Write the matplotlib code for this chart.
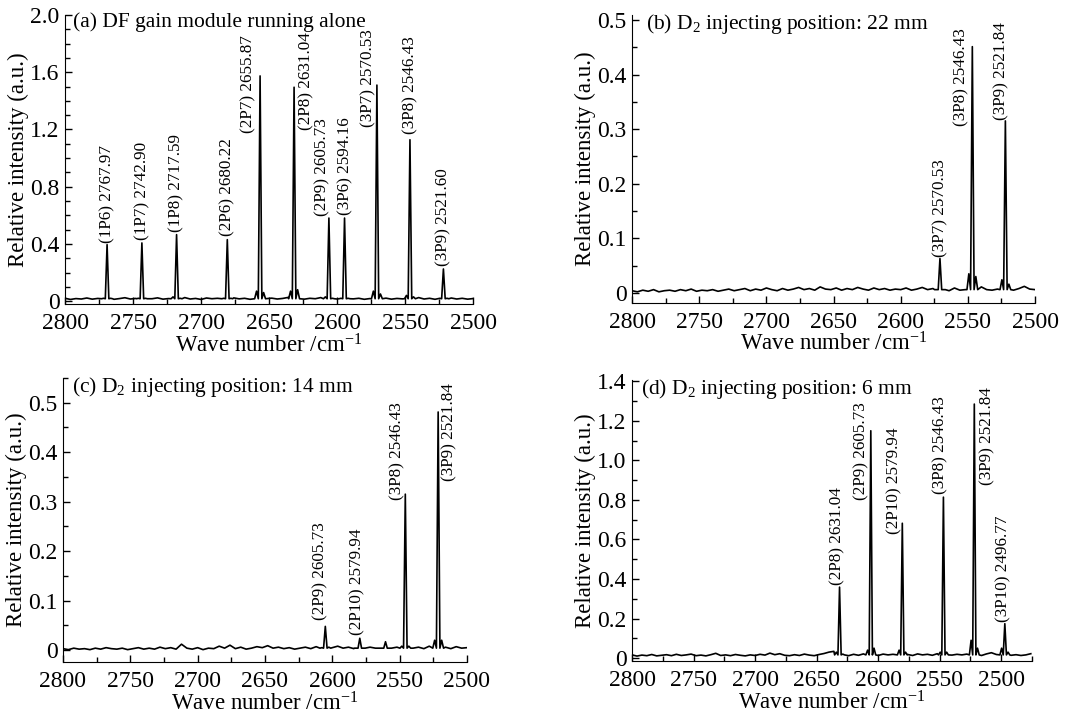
import numpy as np
import matplotlib
matplotlib.use("Agg")
import matplotlib.pyplot as plt
from matplotlib.ticker import MultipleLocator

plt.rcParams["font.family"] = ["Liberation Serif", "DejaVu Serif"]
plt.rcParams["mathtext.fontset"] = "custom"
plt.rcParams["mathtext.rm"] = "Liberation Serif"
plt.rcParams["mathtext.it"] = "Liberation Serif:italic"

# --- (a) DF gain module running alone ---
a_base = [0.020, 0.012, 0.018, 0.015, 0.022, 0.014, 0.019, 0.016, 0.021, 0.013,
          0.018, 0.024, 0.015, 0.019, 0.013, 0.020, 0.017, 0.023, 0.014, 0.018,
          0.016, 0.021, 0.025, 0.015, 0.019, 0.012, 0.022, 0.017, 0.020, 0.014,
          0.018, 0.023, 0.016, 0.020, 0.013, 0.019, 0.024, 0.017, 0.021, 0.015,
          0.019, 0.026, 0.018, 0.022, 0.014, 0.020, 0.017, 0.025, 0.016, 0.021,
          0.015, 0.019, 0.023, 0.016, 0.020, 0.013, 0.018, 0.024, 0.017, 0.021,
          0.014, 0.019, 0.016, 0.022, 0.018, 0.025, 0.015, 0.020, 0.013, 0.019,
          0.017, 0.022, 0.015, 0.020, 0.014, 0.018]
a_centers = [2769.1, 2743.5, 2718.0, 2680.7, 2656.6, 2631.6, 2606.0, 2594.5, 2570.7, 2546.4, 2521.8]
a_heights = [0.395, 0.407, 0.465, 0.43, 1.574, 1.495, 0.581, 0.581, 1.51, 1.128, 0.225]
a_sh_hi = [0.02, 0.02, 0.03, 0.02, 0.07, 0.07, 0.03, 0.02, 0.07, 0.04, 0.02]
a_sh_lo = [0.02, 0.02, 0.02, 0.02, 0.06, 0.08, 0.02, 0.02, 0.05, 0.03, 0.02]
a_labels = ["(1P6) 2767.97", "(1P7) 2742.90", "(1P8) 2717.59", "(2P6) 2680.22",
            "(2P7) 2655.87", "(2P8) 2631.04", "(2P9) 2605.73", "(3P6) 2594.16",
            "(3P7) 2570.53", "(3P8) 2546.43", "(3P9) 2521.60"]
a_lab_x = [2769.1, 2743.5, 2718.2, 2680.7, 2665.2, 2622.7, 2610.5, 2594.0, 2577.3, 2546.1, 2521.6]
a_lab_y = [0.407, 0.426, 0.48, 0.458, 1.174, 1.193, 0.598, 0.605, 1.214, 1.167, 0.244]

# --- (b) D2 injecting position: 22 mm ---
b_base = [0.004, 0.002, 0.005, 0.003, 0.006, 0.002, 0.004, 0.005, 0.003, 0.006,
          0.004, 0.007, 0.003, 0.005, 0.004, 0.006, 0.003, 0.005, 0.007, 0.004,
          0.006, 0.008, 0.004, 0.007, 0.005, 0.009, 0.006, 0.004, 0.008, 0.005,
          0.007, 0.010, 0.006, 0.008, 0.005, 0.011, 0.007, 0.006, 0.009, 0.005,
          0.008, 0.006, 0.010, 0.007, 0.005, 0.009, 0.006, 0.008, 0.005, 0.007,
          0.006, 0.009, 0.005, 0.007, 0.010, 0.006, 0.008, 0.005, 0.007, 0.004,
          0.009, 0.005, 0.006, 0.004, 0.008, 0.011, 0.006, 0.005, 0.007, 0.004,
          0.006, 0.005, 0.008, 0.012, 0.007, 0.006]
b_centers = [2570.8, 2546.7, 2522.1]
b_heights = [0.063, 0.451, 0.315]
b_sh_hi = [0.006, 0.035, 0.024]
b_sh_lo = [0.006, 0.030, 0.016]
b_labels = ["(3P7) 2570.53", "(3P8) 2546.43", "(3P9) 2521.84"]
b_lab_x = [2570.8, 2554.7, 2524.8]
b_lab_y = [0.066, 0.306, 0.317]

# --- (c) D2 injecting position: 14 mm ---
c_base = [0.003, 0.001, 0.004, 0.002, 0.003, 0.001, 0.004, 0.002, 0.005, 0.003,
          0.002, 0.004, 0.001, 0.003, 0.005, 0.002, 0.004, 0.002, 0.006, 0.003,
          0.005, 0.002, 0.012, 0.004, 0.002, 0.005, 0.001, 0.004, 0.003, 0.008,
          0.004, 0.010, 0.003, 0.006, 0.002, 0.004, 0.007, 0.005, 0.009, 0.004,
          0.006, 0.003, 0.005, 0.002, 0.004, 0.006, 0.003, 0.007, 0.004, 0.009,
          0.005, 0.008, 0.004, 0.006, 0.003, 0.009, 0.005, 0.006, 0.004, 0.005,
          0.007, 0.004, 0.006, 0.003, 0.005, 0.004, 0.006, 0.003, 0.008, 0.005,
          0.004, 0.006, 0.003, 0.007, 0.004, 0.005]
c_centers = [2605.2, 2579.6, 2560.5, 2545.8, 2521.4]
c_heights = [0.048, 0.024, 0.017, 0.315, 0.481]
c_sh_hi = [0.005, 0.004, 0.004, 0.008, 0.020]
c_sh_lo = [0.006, 0.004, 0.004, 0.008, 0.020]
c_labels = ["(2P9) 2605.73", "(2P10) 2579.94", "(3P8) 2546.43", "(3P9) 2521.84"]
c_lab_x = [2608.9, 2581.1, 2551.7, 2513.2]
c_lab_y = [0.061, 0.030, 0.303, 0.342]

# --- (d) D2 injecting position: 6 mm ---
d_base = [0.016, 0.010, 0.015, 0.012, 0.018, 0.011, 0.014, 0.017, 0.012, 0.019,
          0.013, 0.016, 0.020, 0.012, 0.015, 0.011, 0.017, 0.024, 0.013, 0.016,
          0.012, 0.018, 0.014, 0.011, 0.016, 0.013, 0.019, 0.015, 0.025, 0.017,
          0.022, 0.014, 0.012, 0.017, 0.013, 0.020, 0.015, 0.012, 0.018, 0.023,
          0.030, 0.034, 0.022, 0.016, 0.012, 0.019, 0.014, 0.021, 0.016, 0.018,
          0.013, 0.020, 0.016, 0.019, 0.024, 0.014, 0.018, 0.013, 0.021, 0.016,
          0.019, 0.014, 0.022, 0.017, 0.025, 0.015, 0.019, 0.016, 0.020, 0.014,
          0.018, 0.013, 0.021, 0.027, 0.018, 0.015, 0.019, 0.014, 0.017, 0.013,
          0.016, 0.022]
d_centers = [2631.4, 2606.0, 2580.4, 2547.0, 2521.9, 2497.1]
d_heights = [0.359, 1.15, 0.682, 0.814, 1.285, 0.174]
d_sh_hi = [0.03, 0.04, 0.04, 0.03, 0.09, 0.05]
d_sh_lo = [0.02, 0.05, 0.03, 0.03, 0.05, 0.03]
d_labels = ["(2P8) 2631.04", "(2P9) 2605.73", "(2P10) 2579.94", "(3P8) 2546.43",
            "(3P9) 2521.84", "(3P10) 2496.77"]
d_lab_x = [2633.3, 2613.9, 2586.9, 2549.1, 2511.4, 2497.9]
d_lab_y = [0.371, 0.800, 0.628, 0.830, 0.878, 0.182]

STEP = 4.0
OFFS = np.array([-4.0, -2.6, -1.3, 0.0, 1.3, 2.6, 4.0])


def build_trace(base, centers, heights, sh_hi, sh_lo, foot):
    bx = 2800.0 - STEP * np.arange(len(base))
    by = np.array(base)
    keep = np.ones(len(bx), bool)
    for c in centers:
        keep &= np.abs(bx - c) > 4.1
    xs = list(bx[keep])
    ys = list(by[keep])
    for c, h, hi, lo in zip(centers, heights, sh_hi, sh_lo):
        xs += list(c + OFFS)
        ys += [foot, lo, foot, h, foot, hi, foot]
    order = np.argsort(xs)
    return np.array(xs)[order], np.array(ys)[order]


def fmt(v, _):
    return "0" if abs(v) < 1e-9 else f"{v:.1f}"


panels = [
    dict(rect=[0.0599, 0.5742, 0.3757, 0.4048], base=a_base, centers=a_centers,
         heights=a_heights, hi=a_sh_hi, lo=a_sh_lo, foot=0.017,
         labels=a_labels, lx=a_lab_x, ly=a_lab_y,
         xlim=(2800, 2500), ylim=(-0.02, 2.0), major=0.4, minor=0.1,
         title="(a) DF gain module running alone", tx=0.02),
    dict(rect=[0.5820, 0.5760, 0.3711, 0.4030], base=b_base, centers=b_centers,
         heights=b_heights, hi=b_sh_hi, lo=b_sh_lo, foot=0.006,
         labels=b_labels, lx=b_lab_x, ly=b_lab_y,
         xlim=(2800, 2500), ylim=(-0.018, 0.509), major=0.1, minor=0.05,
         title=r"(b) D$_\mathregular{2}$ injecting position: 22 mm", tx=0.035),
    dict(rect=[0.0580, 0.0728, 0.3720, 0.3980], base=c_base, centers=c_centers,
         heights=c_heights, hi=c_sh_hi, lo=c_sh_lo, foot=0.004,
         labels=c_labels, lx=c_lab_x, ly=c_lab_y,
         xlim=(2800, 2500), ylim=(-0.024, 0.55), major=0.1, minor=0.05,
         title=r"(c) D$_\mathregular{2}$ injecting position: 14 mm", tx=0.022),
    dict(rect=[0.5820, 0.0742, 0.3683, 0.3936], base=d_base, centers=d_centers,
         heights=d_heights, hi=d_sh_hi, lo=d_sh_lo, foot=0.016,
         labels=d_labels, lx=d_lab_x, ly=d_lab_y,
         xlim=(2800, 2475), ylim=(-0.015, 1.407), major=0.2, minor=0.1,
         title=r"(d) D$_\mathregular{2}$ injecting position: 6 mm", tx=0.022),
]

fig = plt.figure(figsize=(10.86, 7.14), dpi=100)

for p in panels:
    ax = fig.add_axes(p["rect"])
    x, y = build_trace(p["base"], p["centers"], p["heights"], p["hi"], p["lo"], p["foot"])
    ax.plot(x, y, color="black", linewidth=1.2)

    ax.set_xlim(*p["xlim"])
    ax.set_ylim(*p["ylim"])
    ax.spines["top"].set_visible(False)
    ax.spines["right"].set_visible(False)
    ax.xaxis.set_major_locator(MultipleLocator(50))
    ax.xaxis.set_minor_locator(MultipleLocator(25))
    ax.yaxis.set_major_locator(MultipleLocator(p["major"]))
    ax.yaxis.set_minor_locator(MultipleLocator(p["minor"]))
    ax.yaxis.set_major_formatter(plt.FuncFormatter(fmt))
    ax.tick_params(which="both", direction="in", labelsize=17, top=False, right=False)
    ax.tick_params(which="major", length=5, width=1)
    ax.tick_params(which="minor", length=3.5, width=1)
    ax.tick_params(axis="x", which="major", pad=6.5)
    ax.tick_params(axis="y", which="major", pad=4)
    ax.set_xlabel(r"Wave number /cm$^{\mathregular{-1}}$", fontsize=16.5, labelpad=0)
    ax.set_ylabel("Relative intensity (a.u.)", fontsize=16.5, labelpad=1)

    ax.text(p["tx"], 1.01, p["title"], transform=ax.transAxes, fontsize=15.5,
            ha="left", va="top")
    for lab, lx, ly in zip(p["labels"], p["lx"], p["ly"]):
        ax.text(lx, ly, lab, rotation=90, ha="center", va="bottom", fontsize=12.3)

fig.savefig("out.png", dpi=100)
